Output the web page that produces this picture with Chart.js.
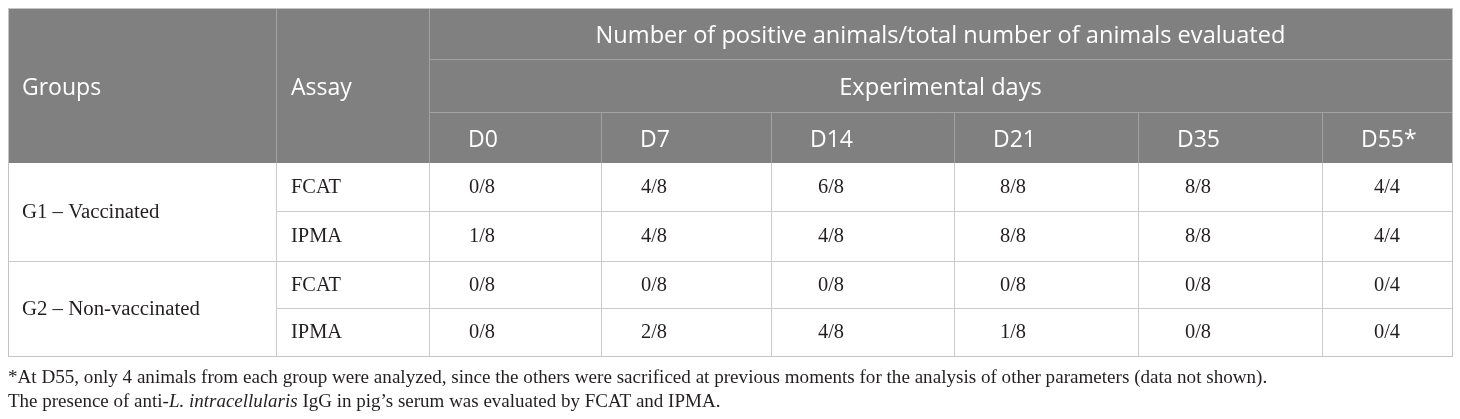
<!DOCTYPE html>
<html>
<head>
<meta charset="utf-8">
<script src="https://cdn.jsdelivr.net/npm/chart.js@4.4.0/dist/chart.umd.min.js"></script>
<style>
  html, body { margin: 0; padding: 0; background: #fff; }
  #wrap { width: 1460px; height: 419px; }
</style>
</head>
<body>
<div id="wrap"><canvas id="tbl"></canvas></div>
<script>
// table content
const days = ['D0', 'D7', 'D14', 'D21', 'D35', 'D55*'];
const groups = ['G1 – Vaccinated', 'G2 – Non-vaccinated'];
const assays = ['FCAT', 'IPMA'];
const totals = [8, 8, 8, 8, 8, 4];
const g1Fcat = [0, 4, 6, 8, 8, 4];
const g1Ipma = [1, 4, 4, 8, 8, 4];
const g2Fcat = [0, 0, 0, 0, 0, 0];
const g2Ipma = [0, 2, 4, 1, 0, 0];
const headTitle = 'Number of positive animals/total number of animals evaluated';
const headDays = 'Experimental days';
const headGroups = 'Groups';
const headAssay = 'Assay';
const note1 = '*At D55, only 4 animals from each group were analyzed, since the others were sacrificed at previous moments for the analysis of other parameters (data not shown).';
const note2 = [['The presence of anti-', false], ['L. intracellularis', true], [' IgG in pig’s serum was evaluated by FCAT and IPMA.', false]];

// layout (scale units == px of the 1460x419 page)
const colEdges = [8, 276, 429, 601, 771, 954, 1138, 1322, 1452];
const rowEdges = [8, 59, 112, 163, 211, 261, 308, 356];
const headPad = 39;
const valuePad = [40, 40, 47, 46, 47, 52];

const HEAD_BG = '#808080', HEAD_LINE = '#a2a2a2', BODY_LINE = '#cbcbcb', BORDER = '#c4c4c4';
const SANS = '"Open Sans", sans-serif', SERIF = '"Liberation Serif", "DejaVu Serif", serif';

const bodyRows = [
  { g: 0, a: 0, v: g1Fcat },
  { g: 0, a: 1, v: g1Ipma },
  { g: 1, a: 0, v: g2Fcat },
  { g: 1, a: 1, v: g2Ipma }
];

const tablePlugin = {
  id: 'tablePlugin',
  afterDraw(chart) {
    const ctx = chart.ctx;
    const sx = v => chart.scales.x.getPixelForValue(v);
    const sy = v => chart.scales.y.getPixelForValue(v);
    const px = v => Math.round(v) + 0.5;
    const L = colEdges[0], R = colEdges[colEdges.length - 1];

    function hline(y, x1, x2, col) {
      ctx.strokeStyle = col; ctx.lineWidth = 1;
      ctx.beginPath(); ctx.moveTo(sx(x1), px(sy(y))); ctx.lineTo(sx(x2), px(sy(y))); ctx.stroke();
    }
    function vline(x, y1, y2, col) {
      ctx.strokeStyle = col; ctx.lineWidth = 1;
      ctx.beginPath(); ctx.moveTo(px(sx(x)), sy(y1)); ctx.lineTo(px(sx(x)), sy(y2)); ctx.stroke();
    }

    ctx.save();
    // header background
    ctx.fillStyle = HEAD_BG;
    ctx.fillRect(sx(L), sy(rowEdges[0]), sx(R) - sx(L), sy(rowEdges[3]) - sy(rowEdges[0]));

    // header lines
    vline(colEdges[1], rowEdges[0], rowEdges[3], HEAD_LINE);
    vline(colEdges[2], rowEdges[0], rowEdges[3], HEAD_LINE);
    hline(rowEdges[1], colEdges[2], R, HEAD_LINE);
    hline(rowEdges[2], colEdges[2], R, HEAD_LINE);
    for (let c = 3; c < colEdges.length - 1; c++) vline(colEdges[c], rowEdges[2], rowEdges[3], HEAD_LINE);

    // body lines
    for (let c = 0; c < colEdges.length; c++) vline(colEdges[c], rowEdges[3], rowEdges[7], BODY_LINE);
    hline(rowEdges[4], colEdges[1], R, BODY_LINE);
    hline(rowEdges[5], L, R, BODY_LINE);
    hline(rowEdges[6], colEdges[1], R, BODY_LINE);
    hline(rowEdges[7], L, R, BODY_LINE);

    // outer border
    ctx.strokeStyle = BORDER;
    ctx.strokeRect(px(sx(L)), px(sy(rowEdges[0])), Math.round(sx(R) - sx(L)), Math.round(sy(rowEdges[7]) - sy(rowEdges[0])));

    // header text
    ctx.fillStyle = '#ffffff';
    ctx.textBaseline = 'alphabetic';
    ctx.textAlign = 'left';
    ctx.font = '23px ' + SANS;
    const headMid = (rowEdges[0] + rowEdges[3]) / 2;
    ctx.fillText(headGroups, sx(colEdges[0] + 14), sy(headMid + 9));
    ctx.fillText(headAssay, sx(colEdges[1] + 15), sy(headMid + 9));
    ctx.textAlign = 'center';
    const daysMid = (colEdges[2] + R) / 2;
    ctx.font = '23.6px ' + SANS;
    ctx.fillText(headTitle, sx(daysMid), sy((rowEdges[0] + rowEdges[1]) / 2 + 9));
    ctx.fillText(headDays, sx(daysMid), sy((rowEdges[1] + rowEdges[2]) / 2 + 9));
    ctx.textAlign = 'left';
    ctx.font = '23px ' + SANS;
    days.forEach((d, i) => {
      ctx.fillText(d, sx(colEdges[i + 2] + headPad), sy((rowEdges[2] + rowEdges[3]) / 2 + 9));
    });

    // body text
    ctx.fillStyle = '#231f20';
    ctx.font = '20.8px ' + SERIF;
    groups.forEach((g, i) => {
      const mid = (rowEdges[3 + i * 2] + rowEdges[5 + i * 2]) / 2;
      ctx.fillText(g, sx(colEdges[0] + 14), sy(mid + 6));
    });
    ctx.font = '20.4px ' + SERIF;
    bodyRows.forEach((row, r) => {
      const mid = (rowEdges[3 + r] + rowEdges[4 + r]) / 2;
      ctx.fillText(assays[row.a], sx(colEdges[1] + 15), sy(mid + 6));
      row.v.forEach((v, i) => {
        ctx.fillText(v + '/' + totals[i], sx(colEdges[i + 2] + valuePad[i]), sy(mid + 6));
      });
    });

    // footnotes
    ctx.font = '19.1px ' + SERIF;
    ctx.fillText(note1, sx(L), sy(383));
    let x = sx(L);
    note2.forEach(([t, it]) => {
      ctx.font = (it ? 'italic ' : '') + '19px ' + SERIF;
      ctx.fillText(t, x, sy(407));
      x += ctx.measureText(t).width;
    });
    ctx.restore();
  }
};

new Chart(document.getElementById('tbl'), {
  type: 'scatter',
  data: { datasets: [] },
  options: {
    responsive: true,
    maintainAspectRatio: false,
    animation: false,
    layout: { padding: 0 },
    plugins: { legend: { display: false }, tooltip: { enabled: false } },
    scales: {
      x: { type: 'linear', min: 0, max: 1460, display: false },
      y: { type: 'linear', min: 0, max: 419, reverse: true, display: false }
    }
  },
  plugins: [tablePlugin]
});
</script>
</body>
</html>
